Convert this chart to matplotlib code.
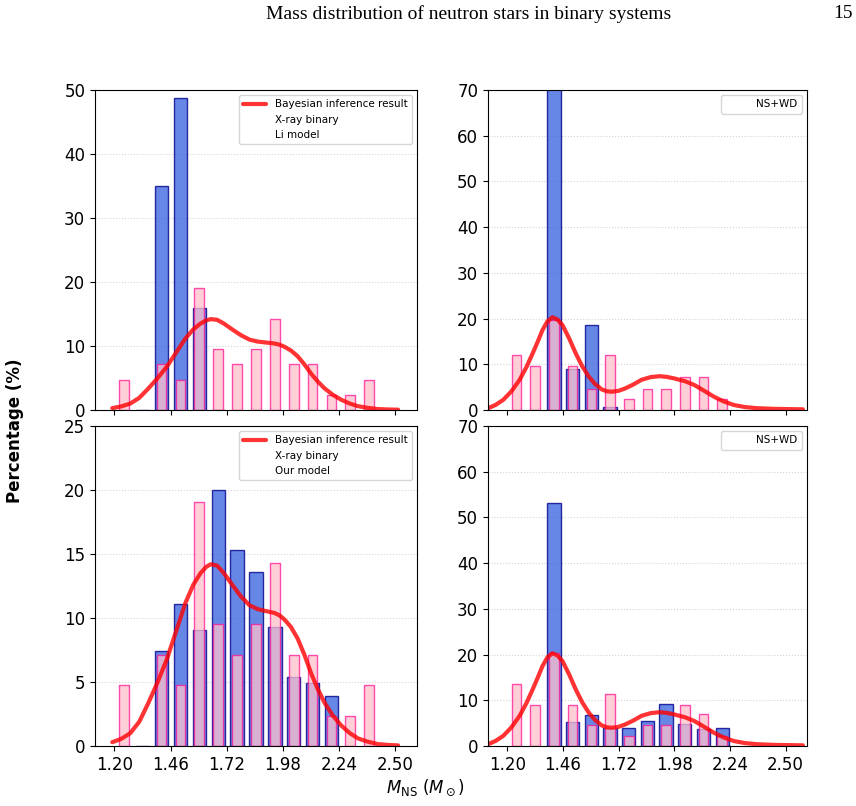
import matplotlib
matplotlib.use("Agg")
import matplotlib.pyplot as plt
from matplotlib.lines import Line2D
import numpy as np

# Mass bins (15 bins between 1.20 and 2.51 Msun)
bin_edges = np.linspace(1.2, 2.51, 16)
bin_centers = 0.5 * (bin_edges[:-1] + bin_edges[1:])
nan = np.nan

# Observed X-ray binary sample (%)
xray_obs = [4.76, nan, 7.14, 4.76, 19.05, 9.52, 7.14, 9.52, 14.29, 7.14, 7.14, 2.38, 2.38, 4.76, nan]
# Li model (%)
li_model = [nan, 0, 35.0, 48.8, 16.0, 0, nan, nan, nan, nan, nan, nan, nan, nan, nan]
# Our model, X-ray binary (%)
our_model = [nan, 0, 7.4, 11.1, 9.1, 20.0, 15.3, 13.6, 9.3, 5.4, 4.9, 3.9, nan, nan, nan]

# NS+WD observed samples (%)
nswd_obs_top = [12.0, 9.7, 19.7, 9.7, 4.7, 12.0, 2.4, 4.7, 4.7, 7.2, 7.2, 2.4, nan, nan, nan]
nswd_obs_bot = [13.6, 9.0, 20.3, 9.0, 4.6, 11.3, 2.2, 4.6, 4.6, 9.0, 6.9, 2.2, nan, nan, nan]
# NS+WD models (%)
nswd_li = [nan, nan, 71.8, 9.0, 18.7, 0.6, nan, nan, nan, nan, nan, nan, nan, nan, nan]
nswd_our = [nan, nan, 53.2, 5.3, 6.7, 3.9, 3.9, 5.5, 9.2, 4.8, 3.7, 3.9, nan, nan, nan]

# Bayesian inference curves
xray_curve_x = [1.19, 1.23, 1.273, 1.315, 1.358, 1.40, 1.443, 1.486, 1.529, 1.565,
                1.598, 1.625, 1.645, 1.675, 1.707, 1.745, 1.785, 1.825, 1.862, 1.90,
                1.940, 1.965, 1.986, 2.017, 2.048, 2.08, 2.11, 2.14, 2.172, 2.21,
                2.25, 2.29, 2.327, 2.37, 2.42, 2.47, 2.513]
xray_curve_y = [0.3, 0.55, 1.0, 1.9, 3.4, 5.0, 6.8, 9.0, 11.2, 12.6,
                13.5, 14.0, 14.2, 14.1, 13.5, 12.6, 11.7, 11.0, 10.7, 10.55,
                10.4, 10.2, 9.9, 9.3, 8.4, 7.1, 5.7, 4.5, 3.4, 2.4,
                1.6, 1.0, 0.6, 0.35, 0.15, 0.08, 0.05]
nswd_curve_x = [1.111, 1.145, 1.181, 1.22, 1.258, 1.29, 1.319, 1.343, 1.365, 1.388,
                1.411, 1.435, 1.458, 1.49, 1.52, 1.55, 1.581, 1.61, 1.642, 1.665,
                1.688, 1.72, 1.75, 1.79, 1.827, 1.87, 1.912, 1.945, 1.981, 2.03,
                2.073, 2.12, 2.166, 2.21, 2.258, 2.31, 2.366, 2.45, 2.581]
nswd_curve_y = [0.4, 1.1, 2.2, 4.1, 6.6, 9.4, 12.4, 15.0, 17.5, 19.4,
                20.3, 19.8, 18.6, 15.6, 12.4, 9.6, 7.3, 5.7, 4.5, 4.1,
                4.0, 4.2, 4.7, 5.6, 6.6, 7.2, 7.4, 7.25, 6.9, 6.3,
                5.5, 4.2, 2.9, 1.9, 1.1, 0.65, 0.4, 0.25, 0.15]

xticks = [1.20, 1.46, 1.72, 1.98, 2.24, 2.50]


def draw_bars(ax, vals, width, face, edge, alpha):
    vals = np.array(vals, dtype=float)
    ok = ~np.isnan(vals)
    ax.bar(bin_centers[ok], vals[ok], width=width, color=face, edgecolor=edge,
           linewidth=1.0, alpha=alpha)


def panel(ax, model, obs, cx, cy, ymax, ystep, labels):
    draw_bars(ax, model, 0.062, 'royalblue', 'darkblue', 0.8)
    draw_bars(ax, obs, 0.045, 'pink', 'deeppink', 0.75)
    line, = ax.plot(cx, cy, color='red', lw=3, alpha=0.8, solid_capstyle='round')
    ax.set_xlim(1.11, 2.60)
    ax.set_ylim(0, ymax)
    ax.set_xticks(xticks)
    ax.set_xticklabels(['%.2f' % t for t in xticks])
    ax.set_yticks(np.arange(0, ymax + 1, ystep))
    ax.tick_params(labelsize=12)
    ax.grid(axis='y', linestyle=':', color='lightgray', lw=0.8)
    ax.set_axisbelow(True)
    blank = Line2D([], [], linestyle='none')
    if len(labels) == 3:
        ax.legend([line, blank, blank], labels, loc='upper right', fontsize=7.5,
                  handlelength=2.2)
    else:
        ax.legend([blank], labels, loc='upper right', fontsize=7.5, handlelength=2.2)


fig = plt.figure(figsize=(8.56, 8.06), dpi=100)
ax1 = fig.add_axes([0.111, 0.4913, 0.376, 0.397])
ax2 = fig.add_axes([0.570, 0.4913, 0.3727, 0.397])
ax3 = fig.add_axes([0.111, 0.0744, 0.376, 0.397])
ax4 = fig.add_axes([0.570, 0.0744, 0.3727, 0.397])

panel(ax1, li_model, xray_obs, xray_curve_x, xray_curve_y, 50, 10,
      ['Bayesian inference result', 'X-ray binary', 'Li model'])
panel(ax2, nswd_li, nswd_obs_top, nswd_curve_x, nswd_curve_y, 70, 10, ['NS+WD'])
panel(ax3, our_model, xray_obs, xray_curve_x, xray_curve_y, 25, 5,
      ['Bayesian inference result', 'X-ray binary', 'Our model'])
panel(ax4, nswd_our, nswd_obs_bot, nswd_curve_x, nswd_curve_y, 70, 10, ['NS+WD'])

ax1.tick_params(labelbottom=False)
ax2.tick_params(labelbottom=False)

fig.text(0.018, 0.466, 'Percentage (%)', rotation=90, fontsize=12,
         fontweight='bold', ha='center', va='center')
fig.text(0.497, 0.022, r'$M_{\rm NS}$ ($M_\odot$)', fontsize=12,
         ha='center', va='center')

# page header
fig.text(0.548, 0.983, 'Mass distribution of neutron stars in binary systems',
         family='Liberation Serif', fontsize=14, ha='center', va='center')
fig.text(0.985, 0.983, '15', family='Liberation Serif', fontsize=14,
         ha='center', va='center')

fig.savefig('out.png', dpi=100)
